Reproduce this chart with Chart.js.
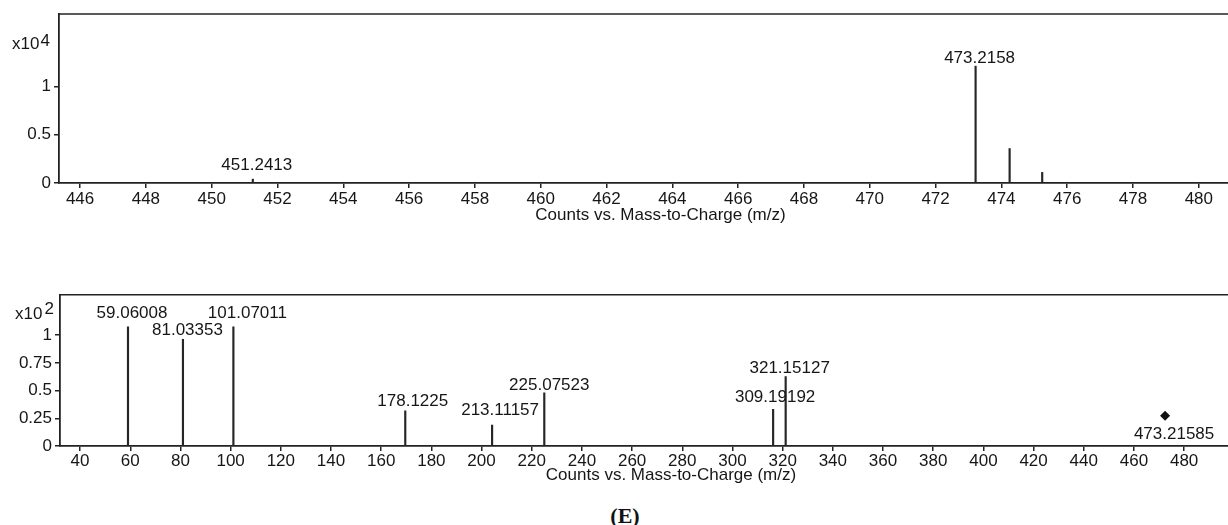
<!DOCTYPE html>
<html>
<head>
<meta charset="utf-8">
<script src="https://cdn.jsdelivr.net/npm/chart.js@4.4.0/dist/chart.umd.min.js"></script>
<style>
  body { margin: 0; background: #fff; width: 1228px; height: 525px; overflow: hidden; position: relative; }
  #ms1 { position: absolute; left: 0; top: 0; }
  #ms2 { position: absolute; left: 0; top: 280px; }
  #tag { position: absolute; left: 0; width: 1250px; top: 503px; text-align: center; line-height: 22px;
         font: bold 22px "Liberation Serif", "DejaVu Serif", serif; color: #111; }
</style>
</head>
<body>
<canvas id="ms1" width="1262" height="240"></canvas>
<canvas id="ms2" width="1287" height="220"></canvas>
<div id="tag">(E)</div>
<script>
// MS1 spectrum (counts x10^4)
const ms1Mz = [451.25, 473.2158, 474.25, 475.24];
const ms1Counts = [0.04, 1.21, 0.357, 0.11];
const ms1Labels = ["451.2413", "473.2158", "", ""];
const ms1Ticks = [446, 448, 450, 452, 454, 456, 458, 460, 462, 464, 466, 468, 470, 472, 474, 476, 478, 480];

// MS/MS spectrum (counts x10^2)
const ms2Mz = [59.1, 81.0, 101.1, 169.6, 204.2, 225.0, 316.2, 321.2];
const ms2Counts = [1.075, 0.964, 1.075, 0.318, 0.188, 0.479, 0.33, 0.627];
const ms2Labels = ["59.06008", "81.03353", "101.07011", "178.1225", "213.11157", "225.07523", "309.19192", "321.15127"];
const precursorMz = [472.4];
const precursorCounts = [0.273];
const precursorLabels = ["473.21585"];

// label nudges in px: [dx, height of label centre above the peak top]
const ms1LabelShift = [[4, 14], [4, 8], [0, 0], [0, 0]];
const ms2LabelShift = [[4, 14], [4.5, 9], [14, 14], [7.5, 9.3], [8, 15], [5, 7.3], [2, 12], [4, 8.3]];
const precursorShift = [[9, -19]];

const ink = '#161616';
const FONT = '"Liberation Sans", Arial, sans-serif';
Chart.defaults.font.family = FONT;
Chart.defaults.font.size = 17;
Chart.defaults.color = ink;

const peakLabels = {
  id: 'peakLabels',
  afterDatasetsDraw(chart, args, opts) {
    const ctx = chart.ctx;
    ctx.save();
    ctx.font = '17px ' + FONT;
    ctx.fillStyle = ink;
    ctx.textAlign = 'center';
    ctx.textBaseline = 'middle';
    opts.sets.forEach(set => {
      const meta = chart.getDatasetMeta(set.dataset);
      set.texts.forEach((t, i) => {
        if (!t) return;
        const el = meta.data[i];
        ctx.fillText(t, el.x + set.shift[i][0], el.y - set.shift[i][1]);
      });
    });
    ctx.restore();
  }
};

const frame = {
  id: 'frame',
  afterDraw(chart, args, opts) {
    const { ctx, chartArea } = chart;
    ctx.save();
    ctx.strokeStyle = '#222';
    ctx.lineWidth = 1.5;
    ctx.beginPath();
    ctx.moveTo(chartArea.left, chartArea.top);
    ctx.lineTo(chart.width, chartArea.top);
    ctx.stroke();
    ctx.font = '17px ' + FONT;
    ctx.fillStyle = ink;
    ctx.textBaseline = 'middle';
    ctx.textAlign = 'left';
    const x0 = chartArea.left + opts.dx;
    const y0 = chartArea.top + opts.dy;
    ctx.fillText('x10', x0, y0);
    const w = ctx.measureText('x10').width;
    ctx.fillText(opts.power, x0 + w + opts.gap, y0 - opts.raise);
    ctx.restore();
  }
};

function makeChart(id, cfg) {
  const xs = {
    type: 'linear',
    min: cfg.xMin,
    max: cfg.xMax,
    offset: false,
    border: { color: '#222', width: 1.8 },
    grid: { drawOnChartArea: false, offset: false, tickLength: 5, color: '#222', lineWidth: 1.5 },
    ticks: { stepSize: cfg.xStep, includeBounds: false, autoSkip: false, maxRotation: 0, padding: cfg.tickPad,
             font: { size: 17, lineHeight: 1 } },
    afterBuildTicks: s => { s.ticks = cfg.xTicks.map(v => ({ value: v })); },
    title: { display: true, text: 'Counts vs. Mass-to-Charge (m/z)', font: { size: 17, lineHeight: 1 },
             padding: { top: cfg.titlePad, bottom: 0 } }
  };
  const ys = {
    min: 0,
    max: cfg.yMax,
    border: { color: '#222', width: 1.8 },
    grid: { drawOnChartArea: false, tickLength: 5, color: '#222', lineWidth: 1.5 },
    ticks: { stepSize: cfg.yStep, padding: 3, font: { size: 17, lineHeight: 1 },
             callback: v => String(Math.round(v * 100) / 100) },
    afterBuildTicks: s => { s.ticks = s.ticks.filter(t => t.value <= 1.0001); },
    afterFit: s => { s.width = cfg.left; }
  };
  return new Chart(document.getElementById(id), {
    type: 'bar',
    data: { datasets: cfg.datasets },
    options: {
      responsive: false,
      animation: false,
      layout: { padding: { top: cfg.padTop, bottom: cfg.padBottom, left: 0, right: 0 } },
      plugins: {
        legend: { display: false },
        tooltip: { enabled: false },
        peakLabels: { sets: cfg.labelSets },
        frame: cfg.frame
      },
      scales: { x: xs, y: ys }
    },
    plugins: [peakLabels, frame]
  });
}

makeChart('ms1', {
  xMin: 445.36, xMax: 481.92, xStep: 2, xTicks: ms1Ticks,
  yMax: 1.75, yStep: 0.5, left: 59,
  padTop: 14, padBottom: 16, tickPad: 3, titlePad: -4,
  datasets: [{
    type: 'bar',
    data: ms1Mz.map((m, i) => ({ x: m, y: ms1Counts[i] })),
    backgroundColor: '#262626',
    barThickness: 1.5
  }],
  labelSets: [{ dataset: 0, texts: ms1Labels, shift: ms1LabelShift }],
  frame: { power: '4', dx: -47, dy: 30, gap: 1, raise: 3 }
});

const ms2Ticks = [];
for (let v = 40; v <= 480; v += 20) ms2Ticks.push(v);

makeChart('ms2', {
  xMin: 32.0, xMax: 519.0, xStep: 20, xTicks: ms2Ticks,
  yMax: 1.366, yStep: 0.25, left: 60,
  padTop: 14.7, padBottom: 16.5, tickPad: 2, titlePad: -5.5,
  datasets: [{
    type: 'bar',
    data: ms2Mz.map((m, i) => ({ x: m, y: ms2Counts[i] })),
    backgroundColor: '#262626',
    barThickness: 1.5
  }, {
    type: 'line',
    showLine: false,
    data: precursorMz.map((m, i) => ({ x: m, y: precursorCounts[i] })),
    pointStyle: 'rectRot',
    pointRadius: 5,
    backgroundColor: '#111',
    borderColor: '#111',
    borderWidth: 0
  }],
  labelSets: [
    { dataset: 0, texts: ms2Labels, shift: ms2LabelShift },
    { dataset: 1, texts: precursorLabels, shift: precursorShift }
  ],
  frame: { power: '2', dx: -45, dy: 20, gap: 2, raise: 5 }
});
</script>
</body>
</html>
